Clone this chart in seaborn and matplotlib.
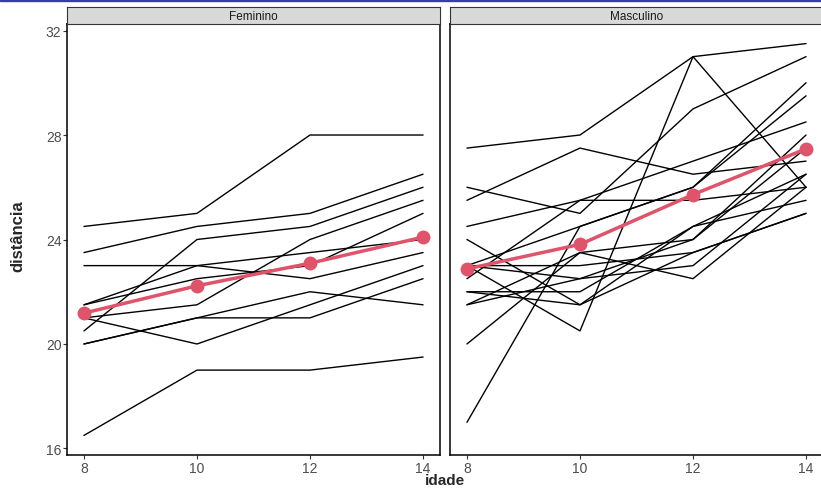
import matplotlib
matplotlib.use("Agg")
import matplotlib.pyplot as plt
import matplotlib.patches as mpatches
import numpy as np
import pandas as pd
import seaborn as sns

ages = [8, 10, 12, 14]

feminino = {
    "F01": [21.0, 20.0, 21.5, 23.0],
    "F02": [21.0, 21.5, 24.0, 25.5],
    "F03": [20.5, 24.0, 24.5, 26.0],
    "F04": [23.5, 24.5, 25.0, 26.5],
    "F05": [21.5, 23.0, 22.5, 23.5],
    "F06": [20.0, 21.0, 21.0, 22.5],
    "F07": [21.5, 22.5, 23.0, 25.0],
    "F08": [23.0, 23.0, 23.5, 24.0],
    "F09": [20.0, 21.0, 22.0, 21.5],
    "F10": [16.5, 19.0, 19.0, 19.5],
    "F11": [24.5, 25.0, 28.0, 28.0],
}

masculino = {
    "M01": [26.0, 25.0, 29.0, 31.0],
    "M02": [21.5, 22.5, 23.0, 26.5],
    "M03": [23.0, 22.5, 24.0, 27.5],
    "M04": [25.5, 27.5, 26.5, 27.0],
    "M05": [20.0, 23.5, 22.5, 26.0],
    "M06": [24.5, 25.5, 27.0, 28.5],
    "M07": [22.0, 22.0, 24.5, 26.5],
    "M08": [24.0, 21.5, 24.5, 25.5],
    "M09": [23.0, 20.5, 31.0, 26.0],
    "M10": [27.5, 28.0, 31.0, 31.5],
    "M11": [23.0, 23.0, 23.5, 25.0],
    "M12": [21.5, 23.5, 24.0, 28.0],
    "M13": [17.0, 24.5, 26.0, 29.5],
    "M14": [22.5, 25.5, 25.5, 26.0],
    "M15": [23.0, 24.5, 26.0, 30.0],
    "M16": [22.0, 21.5, 23.5, 25.0],
}

rows = []
for sexo, grupo in [("Feminino", feminino), ("Masculino", masculino)]:
    for sujeito, valores in grupo.items():
        for idade, dist in zip(ages, valores):
            rows.append({"sexo": sexo, "sujeito": sujeito, "idade": idade, "distancia": dist})
df = pd.DataFrame(rows)

sns.set_style("white")
plt.rcParams["font.family"] = ["Liberation Sans", "DejaVu Sans"]

W, H = 821, 489
fig = plt.figure(figsize=(W / 100, H / 100), dpi=100)

# thin blue rule at the top (slide frame)
fig.patches.append(mpatches.Rectangle((0, 1 - 2 / H), 1, 2 / H, transform=fig.transFigure,
                                      color="#3a3ab0", zorder=10))

panel_w = 373
panel_top, panel_bot = 25, 456
strip_top = 8
lefts = [67, 450]

for i, sexo in enumerate(["Feminino", "Masculino"]):
    ax = fig.add_axes([lefts[i] / W, (H - panel_bot) / H, panel_w / W, (panel_bot - panel_top) / H])
    sub = df[df["sexo"] == sexo]
    # one line per subject
    sns.lineplot(data=sub, x="idade", y="distancia", units="sujeito", estimator=None,
                 color="black", linewidth=1, ax=ax, legend=False)
    # group mean
    sns.lineplot(data=sub, x="idade", y="distancia", estimator="mean", errorbar=None,
                 color="#DF536B", linewidth=2.5, marker="o", markersize=10,
                 markeredgewidth=0, ax=ax, legend=False)
    ax.set_xlim(7.7, 14.3)
    ax.set_ylim(15.75, 32.25)
    ax.set_xticks(ages)
    ax.set_yticks([16, 20, 24, 28, 32])
    ax.set_xlabel("")
    ax.set_ylabel("")
    ax.tick_params(axis="both", length=3, width=0.8, color="#333333",
                   labelsize=10, labelcolor="#4d4d4d", pad=1, left=True, bottom=True)
    if i == 1:
        ax.tick_params(axis="y", left=False, labelleft=False)
    for s in ax.spines.values():
        s.set_color("black")
        s.set_linewidth(1.1)

    sax = fig.add_axes([lefts[i] / W, (H - panel_top) / H, panel_w / W, (panel_top - strip_top) / H])
    sax.set_facecolor("#d9d9d9")
    sax.set_xticks([])
    sax.set_yticks([])
    for s in sax.spines.values():
        s.set_color("#333333")
        s.set_linewidth(0.8)
    sax.text(0.5, 0.5, sexo, ha="center", va="center", fontsize=8.5, color="#1a1a1a",
             transform=sax.transAxes)

fig.text(445 / W, 1 / H, "idade", ha="center", va="bottom", fontsize=11, fontweight="bold")
fig.text(18 / W, 1 - 236 / H, "distância", ha="center", va="center", fontsize=12,
         fontweight="bold", rotation=90)

fig.savefig("out.png", dpi=100)
